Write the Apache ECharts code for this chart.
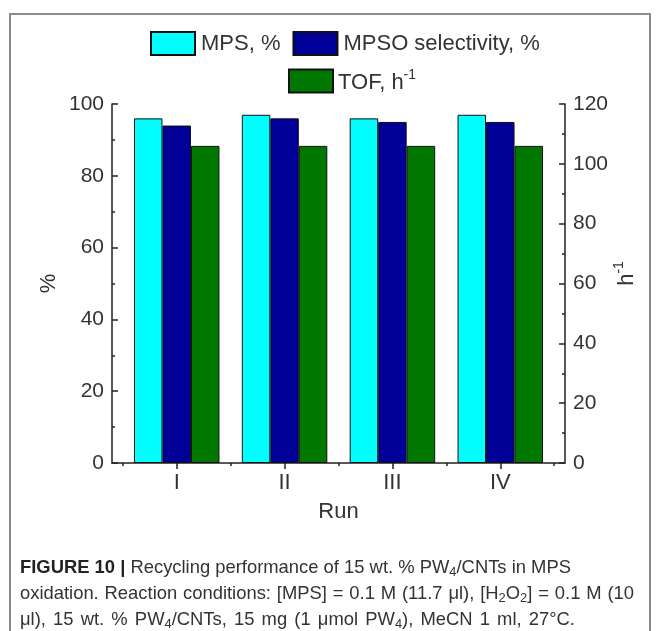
<!DOCTYPE html>
<html>
<head>
<meta charset="utf-8">
<script src="https://cdn.jsdelivr.net/npm/echarts@6.0.0/dist/echarts.min.js"></script>
<style>
  html, body { margin: 0; padding: 0; background: #fff; }
  #wrap { position: relative; width: 659px; height: 631px; overflow: hidden; background: #fff; }
  #frame { position: absolute; left: 9px; top: 13px; width: 642px; height: 700px; border: 2px solid #8c8c8c; box-sizing: border-box; }
  #chart { position: absolute; left: 0; top: 0; width: 659px; height: 631px; }
  #caption { position: absolute; left: 20px; top: 554px; font-family: 'Liberation Sans', Arial, sans-serif; font-size: 18.4px; line-height: 26px; color: #333; white-space: nowrap; }
  #caption .ln { display: block; }
  #caption .j { text-align: justify; text-align-last: justify; }
  #caption b { font-weight: bold; color: #222; }
  #caption sub { font-size: 0.7em; vertical-align: -0.25em; line-height: 0; }
</style>
</head>
<body>
<div id="wrap">
  <div id="frame"></div>
  <div id="chart"></div>
  <div id="caption"><span class="ln"><b>FIGURE 10 |</b> Recycling performance of 15 wt. % PW<sub>4</sub>/CNTs in MPS</span><span class="ln j" style="width:614px">oxidation. Reaction conditions: [MPS] = 0.1 M (11.7 μl), [H<sub>2</sub>O<sub>2</sub>] = 0.1 M (10</span><span class="ln j" style="width:555px">μl), 15 wt. % PW<sub>4</sub>/CNTs, 15 mg (1 μmol PW<sub>4</sub>), MeCN 1 ml, 27°C.</span></div>
</div>
<script>
// ---- data ----
const runs = ['I', 'II', 'III', 'IV'];
const runPos = [1, 2, 3, 4];
const runMinorTicks = [0.5, 1.5, 2.5, 3.5, 4.5];
const mpsConversion = [96, 97, 96, 97];      // MPS, %
const mpsoSelectivity = [94, 96, 95, 95];    // MPSO selectivity, %
const tofValues = [106, 106, 106, 106];      // TOF, h-1 (right axis)
const seriesNames = ['MPS, %', 'MPSO selectivity, %', 'TOF, h-1'];

const FONT = "'Liberation Sans', Arial, sans-serif";
const AX = '#222';
const TXT = '#333';

const chart = echarts.init(document.getElementById('chart'), null, { renderer: 'canvas' });

function pairs(vals) { return runPos.map((x, i) => [x, vals[i]]); }

const barCommon = {
  type: 'bar',
  barWidth: 28.5,
  barGap: '0%',
  xAxisIndex: 0
};

const supRich = {
  a: { fontSize: 22, fontFamily: FONT, color: TXT, lineHeight: 26, verticalAlign: 'bottom' },
  s: { fontSize: 14, fontFamily: FONT, color: TXT, lineHeight: 26, verticalAlign: 'top', padding: [0, 0, 8, 0] }
};

const yCommon = {
  type: 'value',
  interval: 20,
  axisLine: { show: true, lineStyle: { color: AX, width: 1.5 } },
  axisTick: { show: true, inside: true, length: 6, lineStyle: { color: AX, width: 1.5 } },
  minorTick: { show: true, splitNumber: 2, length: 3, lineStyle: { color: AX, width: 1.5 } },
  splitLine: { show: false },
  axisLabel: { color: TXT, fontSize: 21, fontFamily: FONT, margin: 8 },
  nameLocation: 'middle',
  nameMoveOverlap: false,
  nameTextStyle: { color: TXT, fontSize: 22, fontFamily: FONT }
};

const option = {
  animation: false,
  backgroundColor: 'transparent',
  textStyle: { fontFamily: FONT },
  grid: { left: 112, right: 94, top: 104, bottom: 168, containLabel: false, outerBoundsMode: 'none' },
  legend: [
    {
      data: [seriesNames[0], seriesNames[1]],
      icon: 'rect',
      left: 150, top: 31, padding: 0,
      itemWidth: 44, itemHeight: 23, itemGap: 12,
      textStyle: { color: TXT, fontSize: 22, fontFamily: FONT, padding: [0, 0, 0, 1] },
      selectedMode: false
    },
    {
      data: [seriesNames[2]],
      icon: 'rect',
      left: 288, top: 68, padding: 0,
      itemWidth: 44, itemHeight: 23, itemGap: 12,
      formatter: () => '{a|TOF, h}{s|-1}',
      textStyle: { color: TXT, fontSize: 22, fontFamily: FONT, rich: supRich },
      selectedMode: false
    }
  ],
  xAxis: [
    {
      type: 'value',
      min: 0.4, max: 4.6,
      position: 'bottom',
      axisLine: { show: true, onZero: false, lineStyle: { color: AX, width: 1.5 } },
      axisTick: { show: true, inside: false, length: 6, customValues: runPos, lineStyle: { color: AX, width: 1.5 } },
      axisLabel: {
        show: true, customValues: runPos, color: TXT, fontSize: 22, fontFamily: FONT, margin: 9,
        formatter: v => runs[runPos.indexOf(Math.round(v))]
      },
      splitLine: { show: false },
      name: 'Run', nameLocation: 'middle', nameGap: 38, nameMoveOverlap: false,
      nameTextStyle: { color: TXT, fontSize: 22, fontFamily: FONT, verticalAlign: 'top' }
    },
    {
      type: 'value',
      min: 0.4, max: 4.6,
      position: 'bottom',
      axisLine: { show: false, onZero: false },
      axisTick: { show: true, inside: false, length: 3, customValues: runMinorTicks, lineStyle: { color: AX, width: 1.5 } },
      axisLabel: { show: false },
      splitLine: { show: false }
    }
  ],
  yAxis: [
    Object.assign({}, yCommon, {
      min: 0, max: 100, position: 'left',
      name: '%', nameGap: 52
    }),
    Object.assign({}, yCommon, {
      min: 0, max: 120, position: 'right',
      name: '{a|h}{s|-1}', nameGap: 47,
      nameTextStyle: { color: TXT, fontSize: 22, fontFamily: FONT, rich: supRich, padding: [0, 0, 0, 20] }
    })
  ],
  series: [
    Object.assign({}, barCommon, {
      name: seriesNames[0], yAxisIndex: 0, data: pairs(mpsConversion),
      itemStyle: { color: '#00FFFF', borderColor: '#111', borderWidth: 1 }
    }),
    Object.assign({}, barCommon, {
      name: seriesNames[1], yAxisIndex: 0, data: pairs(mpsoSelectivity),
      itemStyle: { color: '#000099', borderColor: '#111', borderWidth: 1 }
    }),
    Object.assign({}, barCommon, {
      name: seriesNames[2], yAxisIndex: 1, data: pairs(tofValues),
      itemStyle: { color: '#007800', borderColor: '#111', borderWidth: 1 }
    })
  ]
};

chart.setOption(option);
</script>
</body>
</html>
